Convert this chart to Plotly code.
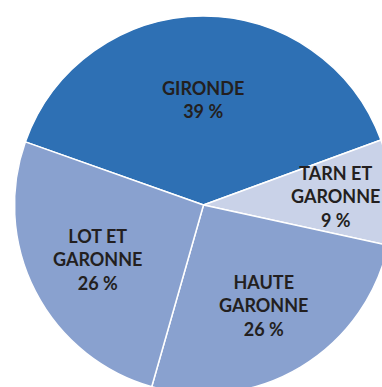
import math
import plotly.graph_objects as go

# Share by département
labels = ["GIRONDE", "TARN ET<br>GARONNE", "HAUTE<br>GARONNE", "LOT ET<br>GARONNE"]
values = [39, 9, 26, 26]
colors = ["#2E70B4", "#C9D2E8", "#89A1CF", "#89A1CF"]
# radial placement of each label, as a fraction of the radius
label_radius = [0.56, 0.70, 0.62, 0.63]

W, H = 396, 398          # canvas larger than the viewport: the pie is cropped right/bottom
cx, cy, r = 203.5, 205.0, 189.0
start_deg = 160.5        # angle (counter-clockwise from 3 o'clock) where the first slice begins

fig = go.Figure(go.Pie(
    labels=labels,
    values=values,
    marker=dict(colors=colors, line=dict(color="white", width=1.5)),
    sort=False,
    direction="clockwise",
    rotation=90 - start_deg,
    textinfo="none",
    hoverinfo="skip",
    showlegend=False,
    domain=dict(x=[(cx - r) / W, (cx + r) / W], y=[1 - (cy + r) / H, 1 - (cy - r) / H]),
))

total = sum(values)
acc = 0.0
for lab, v, f in zip(labels, values, label_radius):
    mid = math.radians(start_deg - 360 * (acc + v / 2) / total)
    acc += v
    px = cx + f * r * math.cos(mid)
    py = cy - f * r * math.sin(mid)
    fig.add_annotation(
        x=px / W, y=1 - py / H, xref="paper", yref="paper",
        xanchor="center", yanchor="middle",
        text=f"<b>{lab}<br>{v} %</b>", showarrow=False,
        font=dict(family="Lato", size=18, color="#231F20"),
        align="center",
    )

fig.update_layout(
    width=W, height=H,
    margin=dict(l=0, r=0, t=0, b=0),
    paper_bgcolor="white",
    plot_bgcolor="white",
)

fig.write_html("out.html", config={"displayModeBar": False},
               post_script="document.body.style.margin='0';document.body.style.overflow='hidden';document.documentElement.style.overflow='hidden';")
